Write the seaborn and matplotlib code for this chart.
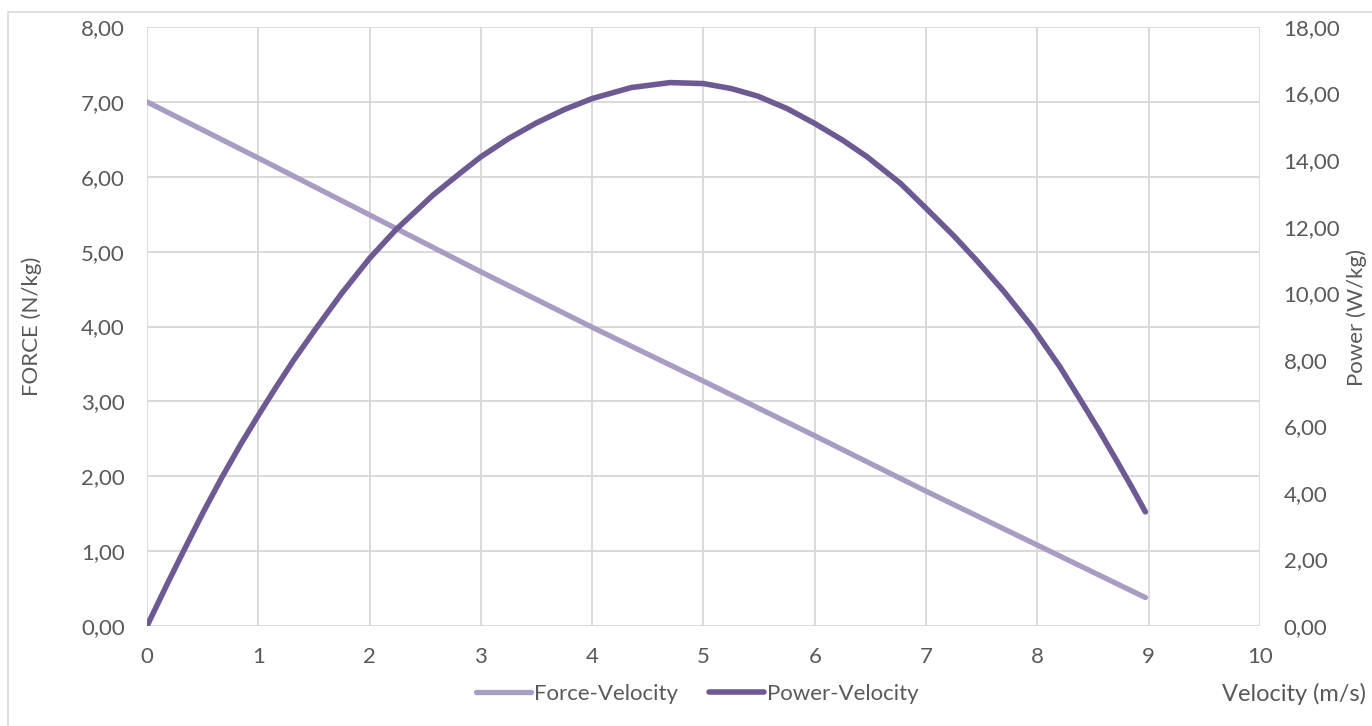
import matplotlib
matplotlib.use("Agg")
import matplotlib.pyplot as plt
import matplotlib.patches as mpatches
from matplotlib.lines import Line2D
from matplotlib.ticker import FuncFormatter
import seaborn as sns
import pandas as pd

# ---- data ----
force_velocity = [0, 1, 2, 3, 4, 5, 6, 7, 8, 8.97]
force_values = [7.00, 6.25, 5.49, 4.73, 3.99, 3.27, 2.54, 1.80, 1.08, 0.38]

power_velocity = [0, 0.18, 0.34, 0.51, 0.67, 0.84, 1.0, 1.16, 1.32, 1.52, 1.75, 2.0,
                  2.24, 2.57, 2.81, 3.0, 3.25, 3.5, 3.75, 4.0, 4.35, 4.7, 5.0, 5.25,
                  5.49, 5.75, 6.0, 6.25, 6.47, 6.77, 7.0, 7.25, 7.45, 7.7, 7.95, 8.2,
                  8.38, 8.55, 8.71, 8.85, 8.97]
power_values = [0.0, 1.25, 2.33, 3.45, 4.45, 5.45, 6.33, 7.18, 8.0, 8.95, 10.0, 11.05,
                11.92, 12.95, 13.6, 14.1, 14.65, 15.12, 15.52, 15.85, 16.18, 16.33, 16.3, 16.15,
                15.92, 15.55, 15.1, 14.6, 14.1, 13.3, 12.55, 11.72, 11.0, 10.05, 9.0, 7.8,
                6.83, 5.9, 4.98, 4.16, 3.43]

x_ticks = list(range(0, 11))
force_ticks = list(range(0, 9))
power_ticks = list(range(0, 19, 2))

series_names = ["Force-Velocity", "Power-Velocity"]
colors = ["#A99CC2", "#6E5A92"]

sns.set_theme(style="white")
plt.rcParams["font.family"] = ["Lato", "DejaVu Sans"]

text_color = "#595959"
grid_color = "#D9D9D9"
fs = 16

fig = plt.figure(figsize=(13.72, 7.26), dpi=100)
ax = fig.add_axes([147 / 1372, 1 - 626 / 726, (1260 - 147) / 1372, (626 - 27) / 726])
ax2 = ax.twinx()

df_f = pd.DataFrame({"v": force_velocity, "y": force_values})
df_p = pd.DataFrame({"v": power_velocity, "y": power_values})

sns.lineplot(data=df_f, x="v", y="y", ax=ax, color=colors[0], linewidth=3.8,
             solid_capstyle="round", solid_joinstyle="round", zorder=3)
sns.lineplot(data=df_p, x="v", y="y", ax=ax2, color=colors[1], linewidth=4.0,
             solid_capstyle="round", solid_joinstyle="round", zorder=3)

ax.set_xlim(0, 10)
ax.set_ylim(0, 8)
ax2.set_ylim(0, 18)
ax.set_xticks(x_ticks)
ax.set_yticks(force_ticks)
ax2.set_yticks(power_ticks)

fmt = FuncFormatter(lambda v, p: f"{v:.2f}".replace(".", ","))
ax.yaxis.set_major_formatter(fmt)
ax2.yaxis.set_major_formatter(fmt)
ax.xaxis.set_major_formatter(FuncFormatter(lambda v, p: f"{int(v)}"))

ax.grid(True, color=grid_color, linewidth=1.4)
ax2.grid(False)
ax.set_axisbelow(True)

for a in (ax, ax2):
    for s in a.spines.values():
        s.set_visible(False)
    a.tick_params(length=0, labelsize=fs, colors=text_color)

ax.tick_params(axis="y", pad=16)
ax2.tick_params(axis="y", pad=17)
ax.tick_params(axis="x", pad=15)

ax.set_xlabel("")
ax.set_ylabel("")
ax2.set_ylabel("")

fig.text(32 / 1372, 1 - 326 / 726, "FORCE (N/kg)", rotation=90, ha="center", va="center",
         fontsize=fs, color=text_color)
fig.text(1357 / 1372, 1 - 318 / 726, "Power (W/kg)", rotation=90, ha="center", va="center",
         fontsize=fs, color=text_color)
fig.text(1366 / 1372, 1 - 694 / 726, "Velocity (m/s)", ha="right", va="center",
         fontsize=17, color=text_color)

handles = [Line2D([0], [0], color=colors[0], linewidth=3.8, solid_capstyle="round"),
           Line2D([0], [0], color=colors[1], linewidth=4.0, solid_capstyle="round")]
fig.legend(handles, series_names, loc="center", bbox_to_anchor=(697 / 1372, 1 - 694 / 726),
           ncol=2, frameon=False, fontsize=fs, labelcolor=text_color,
           handlelength=2.5, handletextpad=0.1, columnspacing=1.4)

# outer chart border (cut off at right and bottom as in reference)
fig.patches.append(mpatches.Rectangle((8 / 1372, -0.1), 1.2, 1 - 12 / 726 + 0.1,
                                      transform=fig.transFigure, fill=False,
                                      edgecolor="#D9D9D9", linewidth=1.2))

fig.savefig("out.png", dpi=100)
